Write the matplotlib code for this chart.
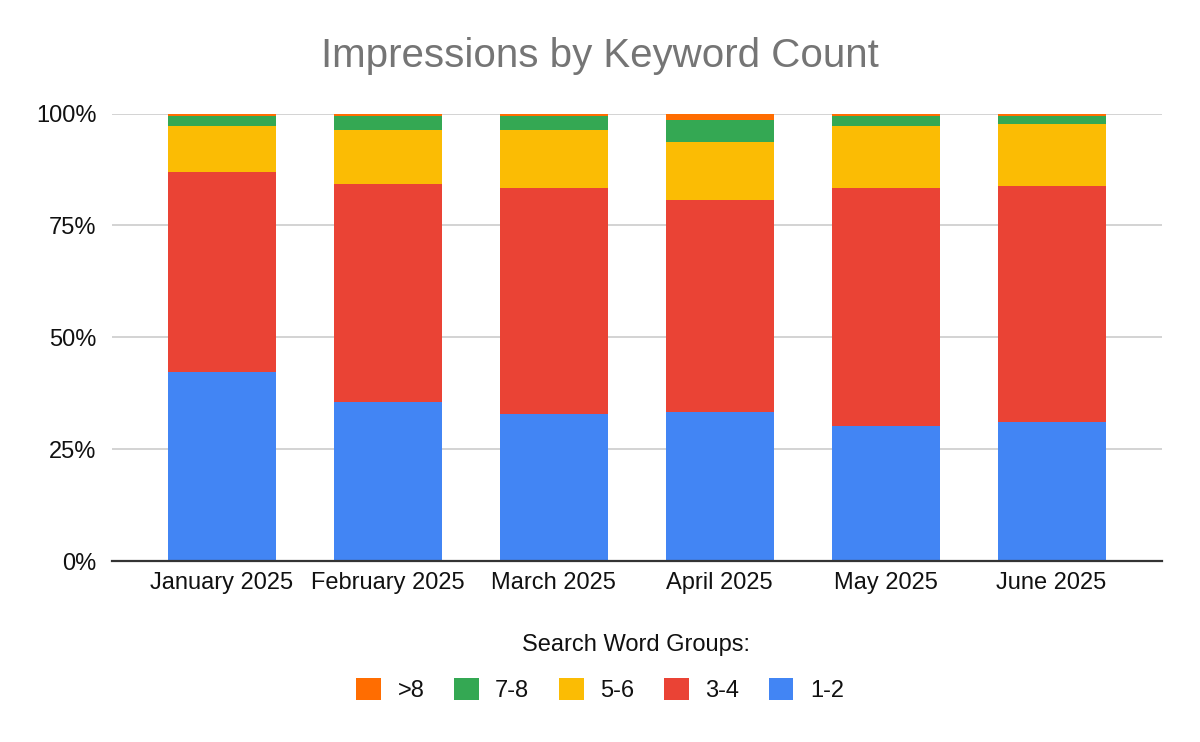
import numpy as np
import matplotlib.pyplot as plt
from matplotlib.patches import Patch
from matplotlib.ticker import PercentFormatter

plt.rcParams['font.family'] = ['Liberation Sans', 'DejaVu Sans']

months = ['January 2025', 'February 2025', 'March 2025', 'April 2025', 'May 2025', 'June 2025']
groups = ['1-2', '3-4', '5-6', '7-8', '>8']

# share of impressions per month (%)
g_1_2 = [42.3, 35.6, 32.9, 33.4, 30.2, 31.1]
g_3_4 = [44.6, 48.6, 50.5, 47.3, 53.2, 52.7]
g_5_6 = [10.3, 12.1, 12.9, 12.9, 13.8, 13.9]
g_7_8 = [2.3, 3.2, 3.2, 4.9, 2.2, 1.7]
g_8plus = [0.5, 0.5, 0.5, 1.5, 0.6, 0.6]

colors = ['#4285F4', '#EA4335', '#FBBC04', '#34A853', '#FF6D01']

series = [g_1_2, g_3_4, g_5_6, g_7_8, g_8plus]

fig = plt.figure(figsize=(12, 7.42), dpi=100)
ax = fig.add_axes([0.0933, 0.2439, 0.8747, 0.6031])

x = np.arange(len(months))
bottom = np.zeros(len(months))
for vals, c, name in zip(series, colors, groups):
    v = np.array(vals) / 100
    ax.bar(x, v, 0.65, bottom=bottom, color=c, label=name, zorder=2, linewidth=0)
    bottom += v

ax.set_xlim(-0.663, len(months) - 1 + 0.663)
ax.set_ylim(0, 1)
ax.set_yticks([0, 0.25, 0.5, 0.75, 1.0])
ax.yaxis.set_major_formatter(PercentFormatter(1.0, decimals=0))
ax.set_xticks(x)
ax.set_xticklabels(months)
ax.tick_params(axis='y', length=0, pad=11, labelsize=17, labelcolor='#111111')
ax.tick_params(axis='x', length=0, pad=8, labelsize=17, labelcolor='#111111')
ax.grid(axis='y', color='#cccccc', linewidth=1.2, zorder=0)
ax.set_axisbelow(True)
for s in ['top', 'right', 'left']:
    ax.spines[s].set_visible(False)
ax.spines['bottom'].set_color('#333333')
ax.spines['bottom'].set_linewidth(1.6)
ax.spines['bottom'].set_zorder(3)

fig.text(0.5, 0.925, 'Impressions by Keyword Count', ha='center', va='center',
         fontsize=29, color='#757575')

fig.text(0.53, 0.131, 'Search Word Groups:', ha='center', va='center',
         fontsize=17, color='#111111')

handles = [Patch(facecolor=c, edgecolor='none') for c in colors[::-1]]
fig.legend(handles, groups[::-1], loc='center', bbox_to_anchor=(0.5, 0.07),
           ncol=5, frameon=False, fontsize=17, handlelength=1.05, handleheight=1.05,
           handletextpad=0.7, columnspacing=1.25, labelcolor='#111111')

fig.savefig('out.png', dpi=100)
